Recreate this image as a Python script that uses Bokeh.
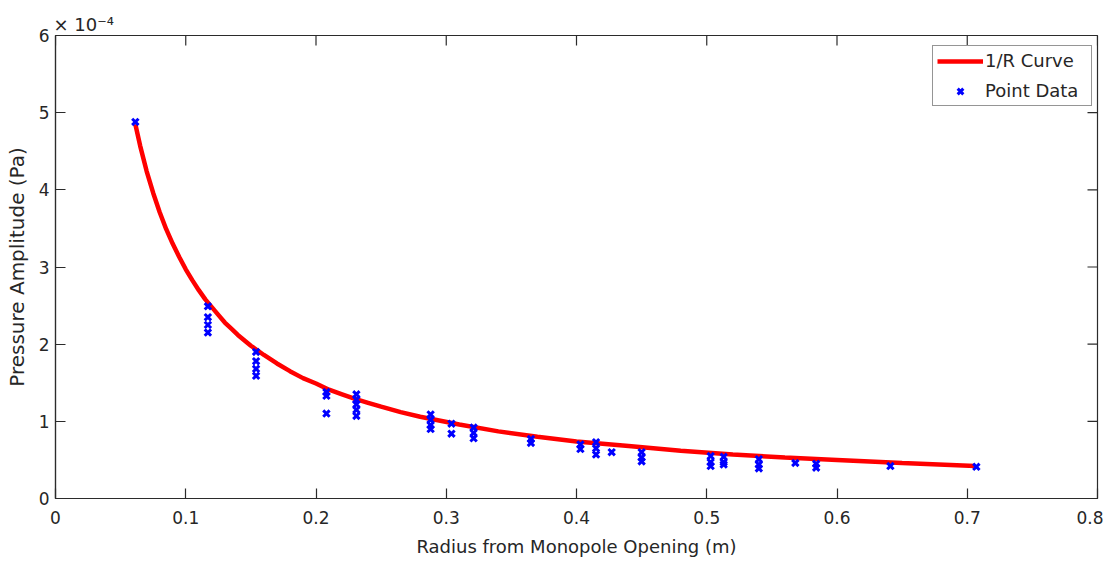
import math
from bokeh.plotting import figure
from bokeh.models import (Range1d, FixedTicker, LinearAxis, CustomJSTickFormatter,
                          Legend, LegendItem)
from bokeh.embed import file_html
from bokeh.resources import INLINE

# ---- data (pressure in Pa, radius in m) ----
curve_r = [0.0613, 0.065, 0.07, 0.075, 0.08, 0.085, 0.09, 0.095, 0.10, 0.105,
           0.11, 0.115, 0.12, 0.125, 0.13, 0.135, 0.14, 0.15, 0.16, 0.17, 0.18,
           0.19, 0.20, 0.21, 0.22, 0.23, 0.24, 0.25, 0.265, 0.28, 0.31, 0.34,
           0.37, 0.40, 0.44, 0.48, 0.52, 0.56, 0.60, 0.65, 0.706]
curve_p = [4.85e-4, 4.57e-4, 4.24e-4, 3.96e-4, 3.71e-4, 3.49e-4, 3.30e-4,
           3.13e-4, 2.97e-4, 2.83e-4, 2.70e-4, 2.58e-4, 2.48e-4, 2.38e-4,
           2.28e-4, 2.20e-4, 2.12e-4, 1.98e-4, 1.86e-4, 1.75e-4, 1.65e-4,
           1.56e-4, 1.49e-4, 1.41e-4, 1.35e-4, 1.29e-4, 1.24e-4, 1.19e-4,
           1.12e-4, 1.06e-4, 0.96e-4, 0.87e-4, 0.80e-4, 0.74e-4, 0.68e-4,
           0.62e-4, 0.57e-4, 0.53e-4, 0.50e-4, 0.46e-4, 0.42e-4]

point_r = [0.0613,
           0.117, 0.117, 0.117, 0.117,
           0.154, 0.154, 0.154, 0.154,
           0.208, 0.208, 0.208,
           0.231, 0.231, 0.231, 0.231, 0.231,
           0.288, 0.288, 0.288, 0.288,
           0.304, 0.304,
           0.321, 0.321, 0.321,
           0.365, 0.365,
           0.403, 0.403,
           0.415, 0.415, 0.415,
           0.427,
           0.450, 0.450, 0.450,
           0.503, 0.503, 0.503,
           0.513, 0.513, 0.513,
           0.540, 0.540, 0.540,
           0.568,
           0.584, 0.584,
           0.641,
           0.707]
point_p = [4.88e-4,
           2.49e-4, 2.35e-4, 2.25e-4, 2.15e-4,
           1.90e-4, 1.78e-4, 1.68e-4, 1.59e-4,
           1.38e-4, 1.33e-4, 1.10e-4,
           1.35e-4, 1.28e-4, 1.22e-4, 1.15e-4, 1.07e-4,
           1.09e-4, 1.02e-4, 0.95e-4, 0.90e-4,
           0.97e-4, 0.84e-4,
           0.92e-4, 0.85e-4, 0.78e-4,
           0.77e-4, 0.72e-4,
           0.70e-4, 0.64e-4,
           0.73e-4, 0.65e-4, 0.57e-4,
           0.60e-4,
           0.60e-4, 0.53e-4, 0.48e-4,
           0.55e-4, 0.47e-4, 0.42e-4,
           0.54e-4, 0.47e-4, 0.44e-4,
           0.51e-4, 0.44e-4, 0.39e-4,
           0.46e-4,
           0.45e-4, 0.40e-4,
           0.42e-4,
           0.41e-4]

x_ticks = [0, 0.1, 0.2, 0.3, 0.4, 0.5, 0.6, 0.7, 0.8]
y_ticks = [0, 1e-4, 2e-4, 3e-4, 4e-4, 5e-4, 6e-4]
X_MAX = 0.8
Y_MAX = 6e-4

FONT = "DejaVu Sans"
TXT = "#262626"
FRAME = "#2b2b2b"

p = figure(width=1103, height=560, output_backend="svg", toolbar_location=None,
           x_range=Range1d(0, X_MAX), y_range=Range1d(0, Y_MAX),
           min_border_left=55, min_border_right=6, min_border_top=35,
           min_border_bottom=62, x_axis_location=None, y_axis_location=None,
           title="\u00d7 10\u207b\u2074")
p.grid.visible = False
p.outline_line_color = FRAME
p.outline_line_width = 1.2
p.background_fill_color = "white"
p.border_fill_color = "white"

p.title.text_font = FONT
p.title.text_font_size = "18px"
p.title.text_font_style = "normal"
p.title.text_color = TXT
p.title.align = "left"
p.title.offset = -2
p.title.standoff = 2
p.title.text_line_height = 1.0


def mk_axis(ticks):
    ax = LinearAxis(ticker=FixedTicker(ticks=ticks))
    ax.axis_line_color = FRAME
    ax.axis_line_width = 1.2
    ax.major_tick_line_color = FRAME
    ax.major_tick_line_width = 1.2
    ax.major_tick_in = 10
    ax.major_tick_out = 0
    ax.minor_tick_line_color = None
    ax.major_label_text_font = FONT
    ax.major_label_text_color = TXT
    ax.major_label_text_font_size = "17px"
    ax.axis_label_text_font = FONT
    ax.axis_label_text_color = TXT
    ax.axis_label_text_font_style = "normal"
    return ax


xb = mk_axis(x_ticks)
xb.major_label_overrides = {0: "0"}
xb.axis_label = "Radius from Monopole Opening (m)"
xb.axis_label_text_font_size = "18px"
xb.major_label_standoff = 12
xb.axis_label_standoff = 9
p.add_layout(xb, "below")

yl = mk_axis(y_ticks)
yl.formatter = CustomJSTickFormatter(code="return Math.round(tick*1e4).toString();")
yl.axis_label = "Pressure Amplitude (Pa)"
yl.axis_label_text_font_size = "20px"
yl.major_label_standoff = 6
yl.axis_label_standoff = 7
p.add_layout(yl, "left")

# inward ticks on the top and right edges of the box
p.ray(x=x_ticks, y=[Y_MAX] * len(x_ticks), length=10, length_units="screen",
      angle=-math.pi / 2, line_color=FRAME, line_width=1.2)
p.ray(x=[X_MAX] * len(y_ticks), y=y_ticks, length=10, length_units="screen",
      angle=math.pi, line_color=FRAME, line_width=1.2)

line_r = p.line(curve_r, curve_p, line_color="#ff0000", line_width=4.5)
pts = p.scatter(point_r, point_p, marker="x", size=9, line_color="#0000ff",
                line_width=3)

legend = Legend(items=[LegendItem(label="1/R Curve", renderers=[line_r]),
                       LegendItem(label="Point Data", renderers=[pts])],
                location=(877, 392))
legend.label_text_font = FONT
legend.label_text_font_size = "18px"
legend.label_text_color = TXT
legend.border_line_color = FRAME
legend.border_line_width = 1.2
legend.glyph_width = 46
legend.glyph_height = 20
legend.label_height = 20
legend.label_width = 102
legend.label_standoff = 2
legend.spacing = 9
legend.padding = 4
legend.margin = 0
legend.background_fill_alpha = 1.0
p.add_layout(legend, "center")

open("out.html", "w").write(file_html(p, INLINE))
